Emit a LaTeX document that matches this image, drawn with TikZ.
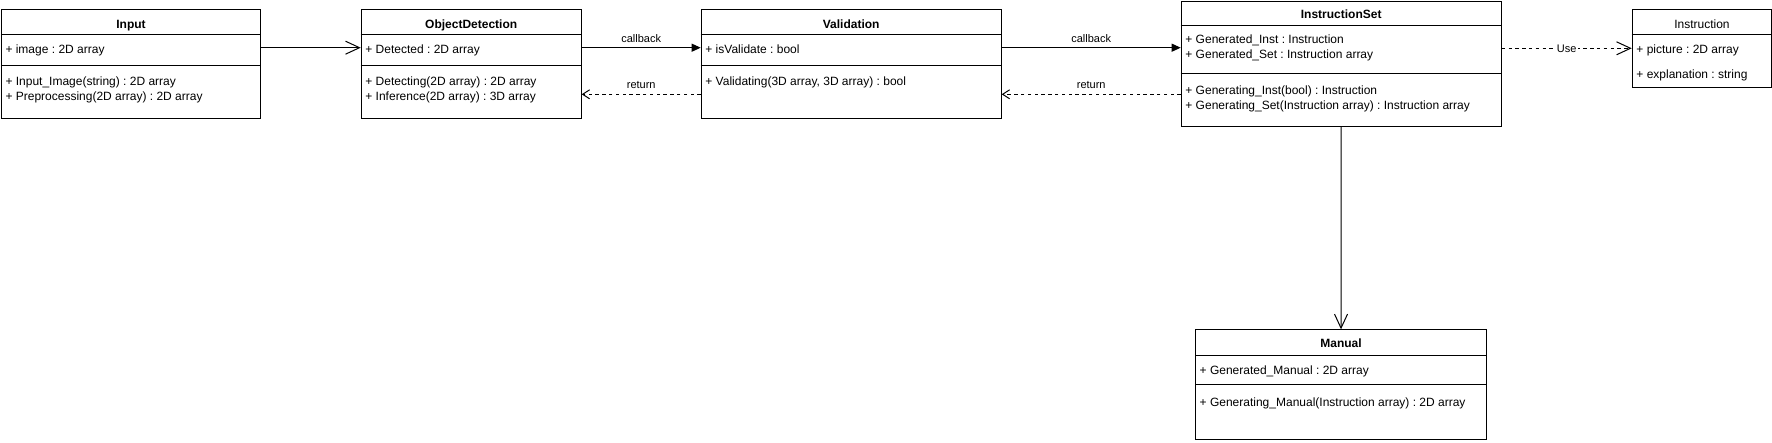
\documentclass[tikz,border=0pt]{standalone}
\usepackage{fontspec}
\setmainfont{Liberation Sans}
\usetikzlibrary{arrows.meta, calc, positioning}
\frenchspacing

\tikzset{
  classbox/.style={draw, line width=1pt, fill=white, anchor=north west, inner sep=0pt},
  headtext/.style={font=\fontsize{12}{15}\selectfont\bfseries, anchor=base, inner sep=0pt},
  rowtext/.style={anchor=base west, inner sep=0pt},
  divider/.style={line width=1pt},
  assoc/.style={line width=1pt, -{Straight Barb[length=14pt, width=13pt]}},
  call/.style={line width=1pt, -{Triangle[length=9pt, width=8pt]}},
  ret/.style={line width=1pt, dash pattern=on 3.4pt off 3.4pt, -{Straight Barb[length=7pt, width=9pt]}},
  uses/.style={line width=1pt, dash pattern=on 3.4pt off 3.4pt, -{Straight Barb[length=14pt, width=13pt]}},
  edgelabel/.style={font=\fontsize{11}{13}\selectfont, inner sep=0pt}
}

\begin{document}
\begin{tikzpicture}[x=1pt, y=-1pt, font=\fontsize{12}{15}\selectfont]
  \useasboundingbox (0,0) rectangle (1772,443);

  % Input
  \node[classbox, minimum width=259.5pt, minimum height=109pt] (input) at (0.8,9.3) {};
  \node[headtext] (inputHead) at ($(input.north)+(0,19)$) {Input};
  \draw[divider] ($(input.north west)+(0,25.7)$) -- ($(input.north east)+(0,25.7)$);
  \draw[divider] ($(input.north west)+(0,56.4)$) -- ($(input.north east)+(0,56.4)$);
  \node[rowtext] (inputImage) at ($(input.north west)+(4.5,44)$) {+ image : 2D array};
  \node[rowtext] (inputLoad) at ($(input.north west)+(4.5,76.4)$) {+ Input\_Image(string) : 2D array};
  \node[rowtext] (inputPrep) at ($(input.north west)+(4.5,91.4)$) {+ Preprocessing(2D array) : 2D array};

  % ObjectDetection
  \node[classbox, minimum width=220pt, minimum height=109pt] (objdet) at (360.7,9.3) {};
  \node[headtext] (objdetHead) at ($(objdet.north)+(0,19)$) {ObjectDetection};
  \draw[divider] ($(objdet.north west)+(0,25.7)$) -- ($(objdet.north east)+(0,25.7)$);
  \draw[divider] ($(objdet.north west)+(0,56.4)$) -- ($(objdet.north east)+(0,56.4)$);
  \node[rowtext] (objdetAttr) at ($(objdet.north west)+(4.5,44)$) {+ Detected : 2D array};
  \node[rowtext] (objdetDetect) at ($(objdet.north west)+(4.5,76.4)$) {+ Detecting(2D array) : 2D array};
  \node[rowtext] (objdetInfer) at ($(objdet.north west)+(4.5,91.4)$) {+ Inference(2D array) : 3D array};

  % Validation
  \node[classbox, minimum width=300pt, minimum height=109pt] (valid) at (700.7,9.3) {};
  \node[headtext] (validHead) at ($(valid.north)+(0,19)$) {Validation};
  \draw[divider] ($(valid.north west)+(0,25.7)$) -- ($(valid.north east)+(0,25.7)$);
  \draw[divider] ($(valid.north west)+(0,56.4)$) -- ($(valid.north east)+(0,56.4)$);
  \node[rowtext] (validAttr) at ($(valid.north west)+(4.5,44)$) {+ isValidate : bool};
  \node[rowtext] (validCheck) at ($(valid.north west)+(4.5,76.4)$) {+ Validating(3D array, 3D array) : bool};

  % InstructionSet
  \node[classbox, minimum width=320pt, minimum height=125.4pt] (instset) at (1180.7,0.6) {};
  \node[headtext] (instsetHead) at ($(instset.north)+(0,17.5)$) {InstructionSet};
  \draw[divider] ($(instset.north west)+(0,25.4)$) -- ($(instset.north east)+(0,25.4)$);
  \draw[divider] ($(instset.north west)+(0,73.4)$) -- ($(instset.north east)+(0,73.4)$);
  \node[rowtext] (instsetInst) at ($(instset.north west)+(4.5,42.7)$) {+ Generated\_Inst : Instruction};
  \node[rowtext] (instsetSet) at ($(instset.north west)+(4.5,57.7)$) {+ Generated\_Set : Instruction array};
  \node[rowtext] (instsetGenInst) at ($(instset.north west)+(4.5,94.1)$) {+ Generating\_Inst(bool) : Instruction};
  \node[rowtext] (instsetGenSet) at ($(instset.north west)+(4.5,109.4)$) {+ Generating\_Set(Instruction array) : Instruction array};

  % Instruction
  \node[classbox, minimum width=139.5pt, minimum height=78pt] (instr) at (1631.7,9.3) {};
  \node[headtext, font=\fontsize{12}{15}\selectfont\mdseries] (instrHead) at ($(instr.north)+(0,19)$) {Instruction};
  \draw[divider] ($(instr.north west)+(0,25.7)$) -- ($(instr.north east)+(0,25.7)$);
  \node[rowtext] (instrPic) at ($(instr.north west)+(4.5,44.7)$) {+ picture : 2D array};
  \node[rowtext] (instrText) at ($(instr.north west)+(4.5,69.7)$) {+ explanation : string};

  % Manual
  \node[classbox, minimum width=291pt, minimum height=109.7pt] (manual) at (1195,329.3) {};
  \node[headtext] (manualHead) at ($(manual.north)+(0,18.5)$) {Manual};
  \draw[divider] ($(manual.north west)+(0,26.4)$) -- ($(manual.north east)+(0,26.4)$);
  \draw[divider] ($(manual.north west)+(0,55.7)$) -- ($(manual.north east)+(0,55.7)$);
  \node[rowtext] (manualAttr) at ($(manual.north west)+(4.5,45.5)$) {+ Generated\_Manual : 2D array};
  \node[rowtext] (manualGen) at ($(manual.north west)+(4.5,77.4)$) {+ Generating\_Manual(Instruction array) : 2D array};

  % Connectors
  \coordinate (callLevel) at (0,47.7);
  \coordinate (retLevel) at (0,94.3);
  \coordinate (useLevel) at (0,48.3);
  \draw[assoc] (input.east |- callLevel) -- (objdet.west |- callLevel);
  \draw[call] (objdet.east |- callLevel) -- node[edgelabel, above=5pt] (callOne) {callback} (valid.west |- callLevel);
  \draw[ret] (valid.west |- retLevel) -- node[edgelabel, above=5.5pt] (retOne) {return} (objdet.east |- retLevel);
  \draw[call] (valid.east |- callLevel) -- node[edgelabel, above=5pt] (callTwo) {callback} (instset.west |- callLevel);
  \draw[ret] (instset.west |- retLevel) -- node[edgelabel, above=5.5pt] (retTwo) {return} (valid.east |- retLevel);
  \draw[uses] (instset.east |- useLevel) -- node[edgelabel, fill=white, inner sep=1pt] (useLabel) {Use} (instr.west |- useLevel);
  \draw[assoc] (instset.south) -- (manual.north);
\end{tikzpicture}
\end{document}
